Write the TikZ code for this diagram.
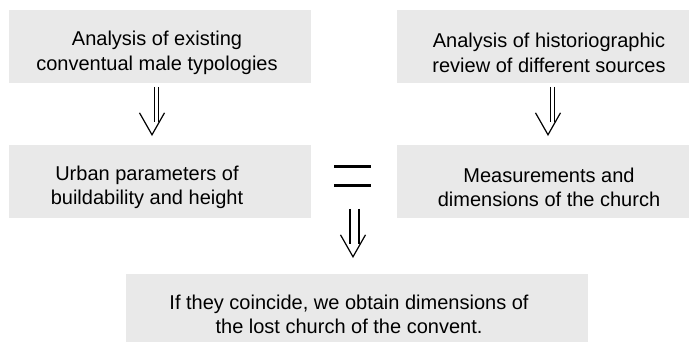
\documentclass[tikz,border=0pt]{standalone}
\usepackage{fontspec}
\setmainfont{Liberation Sans}
\usetikzlibrary{calc}

\definecolor{boxgray}{RGB}{233,233,233}

\begin{document}
\begin{tikzpicture}[x=1pt,y=-1pt,
  box/.style={fill=boxgray, minimum width=302pt, minimum height=73pt, inner sep=0pt},
  txt/.style={align=center, font=\fontsize{20}{24.5}\selectfont, inner sep=0pt},
  stroke/.style={line width=1.2pt}]
\useasboundingbox (0,0) rectangle (689,342);
\clip (0,0) rectangle (689,342);

\node[box] (typo) at (160,46.5) {};
\node[box] (histo) at (548,46.5) {};
\node[box] (urban) at (160,181.5) {};
\node[box] (meas) at (548,181.5) {};
\node[box, minimum width=462pt] (lost) at (357,310.5) {};

\node[txt] (typotxt) at ($(typo)+(-3,6.5)$) {Analysis of existing\\conventual male typologies};
\node[txt] (histotxt) at ($(histo)+(1,6.5)$) {Analysis of historiographic\\review of different sources};
\node[txt] (urbantxt) at ($(urban)+(-13,6)$) {Urban parameters of\\buildability and height};
\node[txt] (meastxt) at ($(meas)+(1,6)$) {Measurements and\\dimensions of the church};
\node[txt] (losttxt) at ($(lost)+(-8,4)$) {If they coincide, we obtain dimensions of\\the lost church of the convent.};

\coordinate (tip1) at ($(urban.north)+(-8,-10)$);
\coordinate (tip2) at ($(meas.north)+(0,-10)$);
\coordinate (tip3) at ($(lost.north)+(-4,-17)$);

\foreach \t/\a/\b in {tip1/2.5/6.5, tip2/2.5/6.5, tip3/-3/6} {
  \draw[stroke] ($(\t)+(\a,-48)$) -- ($(\t)+(\a,-13)$);
  \draw[stroke] ($(\t)+(\b,-48)$) -- ($(\t)+(\b,-13)$);
  \draw[stroke] ($(\t)+(-12.5,-22)$) -- (\t) -- ($(\t)+(12.5,-22)$);
}

\draw[line width=3pt] (334,167) -- (371,167);
\draw[line width=3pt] (334,186) -- (371,186);

\end{tikzpicture}
\end{document}
